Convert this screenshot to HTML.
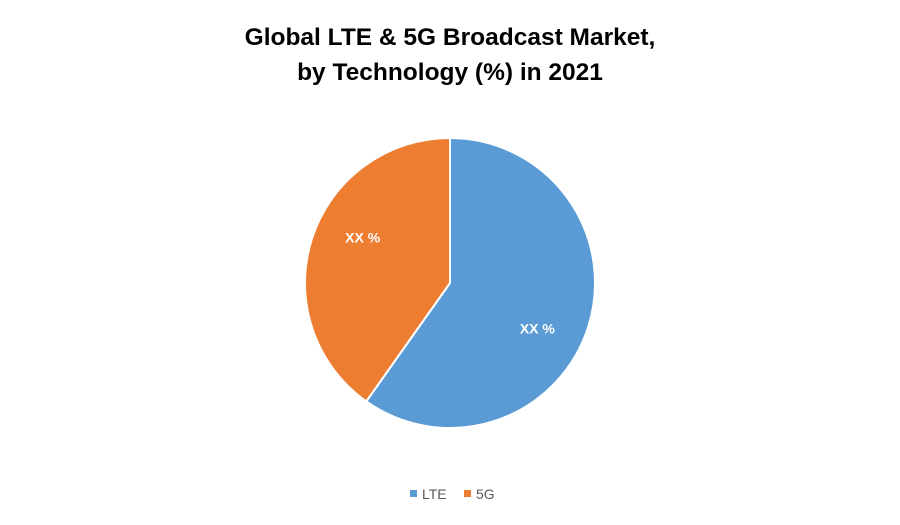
<!DOCTYPE html>
<html><head><meta charset="utf-8"><style>
body{margin:0;background:#fff;}
svg{display:block;font-family:"Liberation Sans",sans-serif;}
</style></head><body>
<svg width="900" height="525">
<text x="450" y="45" text-anchor="middle" font-size="24.5" font-weight="bold" fill="#000">Global LTE &amp; 5G Broadcast Market,</text>
<text x="450" y="80" text-anchor="middle" font-size="24.5" font-weight="bold" fill="#000">by Technology (%) in 2021</text>
<g id="slices"></g>
<g>
<rect x="410" y="490" width="7" height="7" fill="#5b9bd5"></rect>
<text x="422" y="499" font-size="14" fill="#595959">LTE</text>
<rect x="464" y="490" width="7" height="7" fill="#ed7d31"></rect>
<text x="476" y="499" font-size="14" fill="#595959">5G</text>
</g>
</svg>
<script>
const categories = ["LTE", "5G"];
const values = [59.8, 40.2];
const labels = ["XX %", "XX %"];
const colors = ["#5b9bd5", "#ed7d31"];
const cx = 450, cy = 283, r = 145;
const g = document.getElementById('slices');
const total = values.reduce((a, b) => a + b, 0);
let start = 0;
const ns = "http://www.w3.org/2000/svg";
values.forEach((v, i) => {
  const a0 = start / total * 2 * Math.PI, a1 = (start + v) / total * 2 * Math.PI;
  const p = (a, rr) => [cx + rr * Math.sin(a), cy - rr * Math.cos(a)];
  const [x0, y0] = p(a0, r), [x1, y1] = p(a1, r);
  const large = (a1 - a0) > Math.PI ? 1 : 0;
  const path = document.createElementNS(ns, 'path');
  path.setAttribute('d', `M${cx},${cy} L${x0},${y0} A${r},${r} 0 ${large} 1 ${x1},${y1} Z`);
  path.setAttribute('fill', colors[i]);
  path.setAttribute('stroke', '#fff');
  path.setAttribute('stroke-width', '2');
  
  
  g.appendChild(path);
  const [lx, ly] = p((a0 + a1) / 2 + 10 * Math.PI / 180, r * 0.68);
  const t = document.createElementNS(ns, 'text');
  t.setAttribute('x', lx); t.setAttribute('y', ly + 5);
  t.setAttribute('text-anchor', 'middle');
  t.setAttribute('font-size', '14'); t.setAttribute('font-weight', 'bold');
  t.setAttribute('fill', '#fff');
  t.textContent = labels[i];
  
  
  g.appendChild(t);
  start += v;
});
</script>
</body></html>
